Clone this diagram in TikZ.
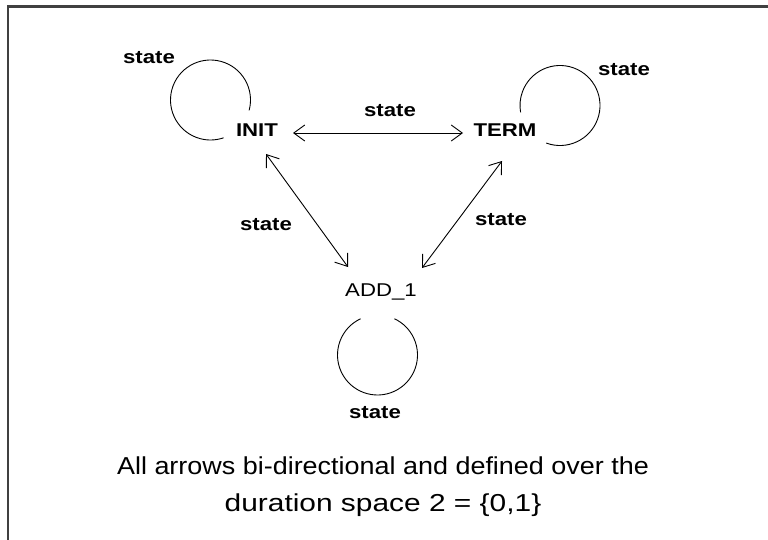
\documentclass[tikz,border=0pt]{standalone}
\usepackage{fontspec}
\setmainfont{Liberation Sans}
\usetikzlibrary{arrows.meta}
% horizontally widened text, as in the screen font of the diagram
\newcommand\widen[2][1.2]{\scalebox{#1}[1]{#2}}

\begin{document}
\begin{tikzpicture}[x=1pt,y=1pt,
  statename/.style={inner sep=0pt, font=\fontsize{18.5}{20}\selectfont\bfseries},
  plainname/.style={inner sep=0pt, font=\fontsize{18.5}{20}\selectfont},
  edgelabel/.style={inner sep=0pt, font=\fontsize{18.5}{20}\selectfont\bfseries},
  note/.style={inner sep=0pt, font=\fontsize{24.5}{26}\selectfont},
  link/.style={line width=0.9pt, {Straight Barb[length=11pt,width=16pt]}-{Straight Barb[length=11pt,width=16pt]}},
  loop/.style={line width=0.9pt}]
\useasboundingbox (0,0) rectangle (768,539);
\clip (0,0) rectangle (768,539);
\fill[white] (0,0) rectangle (768,539);

% outer frame, running off the right and bottom edges
\draw[line width=2.4pt, black!75] (8,-20) rectangle (800,532.5);

% states
\node[statename] (INIT) at (257,408.5) {\widen{INIT}};
\node[statename] (TERM) at (505,408.5) {\widen{TERM}};
\node[plainname] (ADD)  at (381,247)   {\widen{ADD\_1}};

% self-loop centres
\coordinate (initloop) at (210.5,439);
\coordinate (termloop) at (560,433.5);
\coordinate (addloop)  at (377.5,184);

% self-loops
\draw[loop] ([shift={(-15:40)}]initloop) arc[start angle=-15, end angle=289, radius=40];
\draw[loop] ([shift={(250:40)}]termloop) arc[start angle=250, end angle=550, radius=40];
\draw[loop] ([shift={(115:40)}]addloop) arc[start angle=115, end angle=425, radius=40];

% bi-directional transitions
\draw[link] ([shift={(36,-2.5)}]INIT.center) -- ([shift={(-42,-2.5)}]TERM.center);
\draw[link] ([shift={(9,-23.5)}]INIT.center) -- ([shift={(-33,25)}]ADD.center);
\draw[link] ([shift={(-3,-30.5)}]TERM.center) -- ([shift={(41,24)}]ADD.center);

% transition labels
\node[edgelabel] (l1) at (149,481) {\widen{state}};
\node[edgelabel] (l2) at (624,469) {\widen{state}};
\node[edgelabel] (l3) at (390,428) {\widen{state}};
\node[edgelabel] (l4) at (266,314) {\widen{state}};
\node[edgelabel] (l5) at (501,319) {\widen{state}};
\node[edgelabel] (l6) at (375,126) {\widen{state}};

% caption
\node[note] (n1) at (383,73) {\widen[1.1]{All arrows bi-directional and defined over the}};
\node[note] (n2) at (383,34) {\widen[1.22]{duration space 2 = \{0,1\}}};
\end{tikzpicture}
\end{document}
